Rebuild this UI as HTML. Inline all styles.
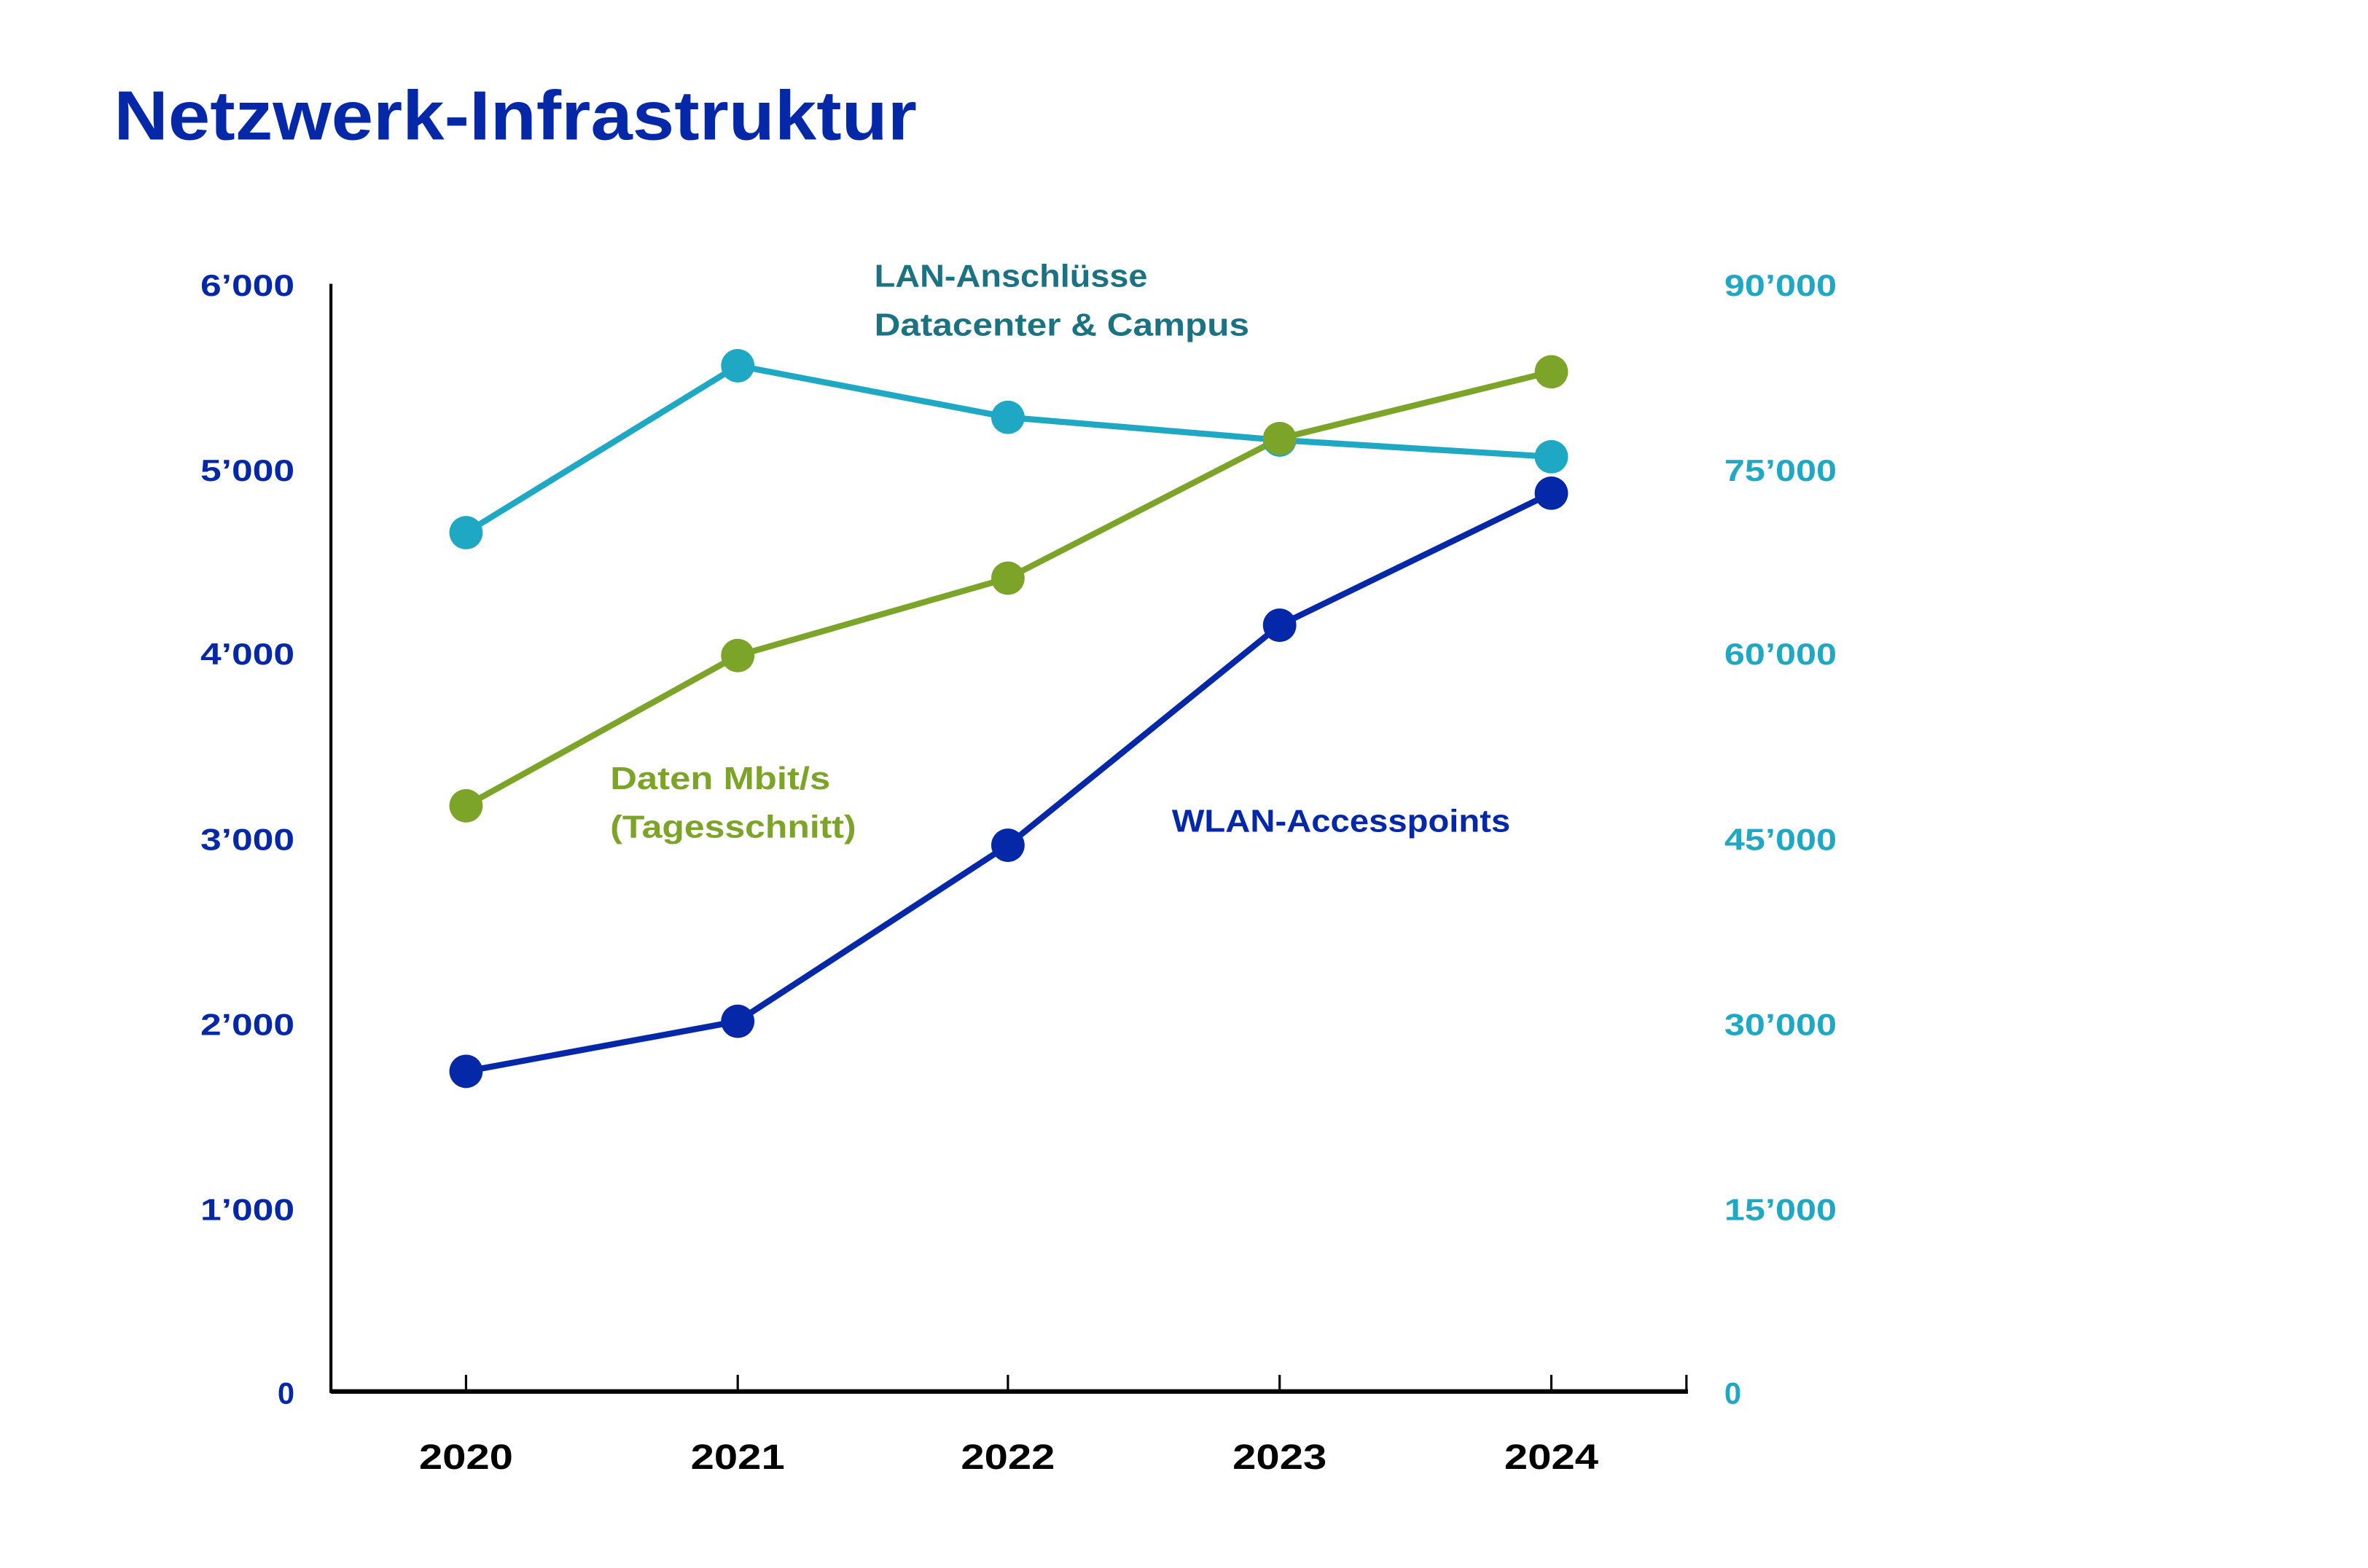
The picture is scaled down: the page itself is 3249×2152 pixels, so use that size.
<!DOCTYPE html>
<html><head><meta charset="utf-8"><style>
html,body{margin:0;padding:0;background:#fff}
svg{display:block}
text{font-family:"Liberation Sans",sans-serif;font-weight:bold}
</style></head><body>
<svg width="3249" height="2152" viewBox="0 0 1560 1033.3" xmlns="http://www.w3.org/2000/svg">
<text x="75" y="92" font-size="46" fill="#0528a8" textLength="529" lengthAdjust="spacingAndGlyphs">Netzwerk-Infrastruktur</text>
<!-- axes -->
<line x1="218" y1="187" x2="218" y2="918" stroke="#000" stroke-width="2"/>
<line x1="218" y1="917" x2="1112" y2="917" stroke="#000" stroke-width="3"/>
<g stroke="#000" stroke-width="1.5">
<line x1="307" y1="906" x2="307" y2="917"/><line x1="486" y1="906" x2="486" y2="917"/>
<line x1="664" y1="906" x2="664" y2="917"/><line x1="843" y1="906" x2="843" y2="917"/>
<line x1="1022" y1="906" x2="1022" y2="917"/><line x1="1111" y1="906" x2="1111" y2="917"/>
</g>
<g font-size="20" fill="#0528a8" text-anchor="end">
<text x="194" y="195" textLength="62" lengthAdjust="spacingAndGlyphs">6’000</text>
<text x="194" y="317" textLength="62" lengthAdjust="spacingAndGlyphs">5’000</text>
<text x="194" y="438" textLength="62" lengthAdjust="spacingAndGlyphs">4’000</text>
<text x="194" y="560" textLength="62" lengthAdjust="spacingAndGlyphs">3’000</text>
<text x="194" y="682" textLength="62" lengthAdjust="spacingAndGlyphs">2’000</text>
<text x="194" y="804" textLength="62" lengthAdjust="spacingAndGlyphs">1’000</text>
<text x="194" y="925">0</text>
</g>
<g font-size="20" fill="#1fa8c4">
<text x="1136" y="195" textLength="74" lengthAdjust="spacingAndGlyphs">90’000</text>
<text x="1136" y="317" textLength="74" lengthAdjust="spacingAndGlyphs">75’000</text>
<text x="1136" y="438" textLength="74" lengthAdjust="spacingAndGlyphs">60’000</text>
<text x="1136" y="560" textLength="74" lengthAdjust="spacingAndGlyphs">45’000</text>
<text x="1136" y="682" textLength="74" lengthAdjust="spacingAndGlyphs">30’000</text>
<text x="1136" y="804" textLength="74" lengthAdjust="spacingAndGlyphs">15’000</text>
<text x="1136" y="925">0</text>
</g>
<g font-size="23" fill="#000" text-anchor="middle">
<text x="307" y="968" textLength="62" lengthAdjust="spacingAndGlyphs">2020</text>
<text x="486" y="968" textLength="62" lengthAdjust="spacingAndGlyphs">2021</text>
<text x="664" y="968" textLength="62" lengthAdjust="spacingAndGlyphs">2022</text>
<text x="843" y="968" textLength="62" lengthAdjust="spacingAndGlyphs">2023</text>
<text x="1022" y="968" textLength="62" lengthAdjust="spacingAndGlyphs">2024</text>
</g>
<!-- series -->
<g fill="none" stroke-width="4" stroke-linejoin="round">
<polyline stroke="#1fa8c4" points="307,351 486,241 664,275 843,290 1022,301"/>
<polyline stroke="#7ba428" points="307,531 486,432 664,381 843,289 1022,245"/>
<polyline stroke="#0528a8" points="307,706 486,673 664,557 843,412 1022,325"/>
</g>
<g fill="#1fa8c4"><circle cx="307" cy="351" r="11"/><circle cx="486" cy="241" r="11"/><circle cx="664" cy="275" r="11"/><circle cx="843" cy="290" r="11"/><circle cx="1022" cy="301" r="11"/></g>
<g fill="#7ba428"><circle cx="307" cy="531" r="11"/><circle cx="486" cy="432" r="11"/><circle cx="664" cy="381" r="11"/><circle cx="843" cy="289" r="11"/><circle cx="1022" cy="245" r="11"/></g>
<g fill="#0528a8"><circle cx="307" cy="706" r="11"/><circle cx="486" cy="673" r="11"/><circle cx="664" cy="557" r="11"/><circle cx="843" cy="412" r="11"/><circle cx="1022" cy="325" r="11"/></g>
<!-- annotations -->
<g font-size="21">
<text x="576" y="189" fill="#1a7282" textLength="180" lengthAdjust="spacingAndGlyphs">LAN-Anschlüsse</text>
<text x="576" y="221" fill="#1a7282" textLength="247" lengthAdjust="spacingAndGlyphs">Datacenter &amp; Campus</text>
<text x="402" y="520" fill="#7ba428" textLength="145" lengthAdjust="spacingAndGlyphs">Daten Mbit/s</text>
<text x="402" y="552" fill="#7ba428" textLength="162" lengthAdjust="spacingAndGlyphs">(Tagesschnitt)</text>
<text x="772" y="548" fill="#0528a8" textLength="223" lengthAdjust="spacingAndGlyphs">WLAN-Accesspoints</text>
</g>
</svg>
</body></html>
